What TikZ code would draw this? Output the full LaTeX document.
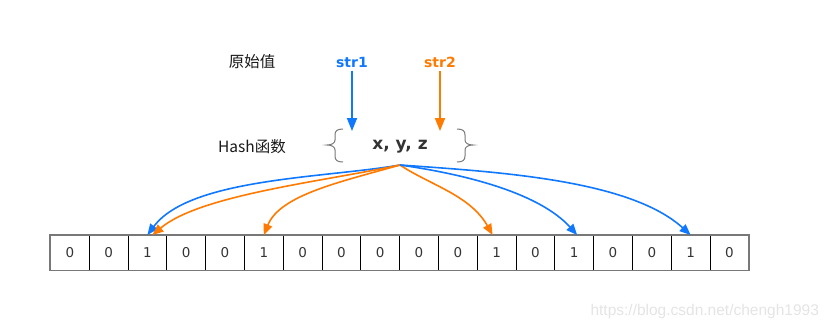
\documentclass[tikz,border=0pt]{standalone}
\usepackage{fontspec}
\setmainfont{DejaVu Sans}
\newfontfamily\cjk{Noto Sans CJK SC}
\newfontfamily\wmfont{Liberation Sans}
\usetikzlibrary{arrows.meta}
\definecolor{hblue}{RGB}{16,120,255}
\definecolor{horange}{RGB}{255,122,0}
\definecolor{bgray}{RGB}{120,120,120}
\definecolor{txt}{RGB}{51,51,51}
\definecolor{wmgray}{RGB}{228,228,228}
\begin{document}
\begin{tikzpicture}[x=1pt,y=-1pt,
  cell/.style={draw=black, line width=0.8pt, minimum width=38.8pt, minimum height=34.5pt,
    inner sep=0pt, font=\fontsize{13.5}{13.5}\selectfont, text=txt, anchor=north west},
  label/.style={font=\cjk\fontsize{15.5}{15.5}\selectfont, text=black!90},
  strlabel/.style={font=\bfseries\fontsize{14}{14}\selectfont},
  vert/.style={-{Triangle[length=13pt,width=10pt]}, line width=1.8pt},
  curve/.style={-{Triangle[length=11pt,width=9pt]}, line width=1.6pt},
  brace/.style={draw=bgray, line width=1pt}
]
\useasboundingbox (0,0) rectangle (831,330);

% labels
\node[label] (yl) at (252,62) {原始值};
\node[label] (hl) at (252,147) {Hash函数};

\node[strlabel, text=hblue] (s1) at (352,62) {str1};
\node[strlabel, text=horange] (s2) at (440,62) {str2};

\node[font=\bfseries\fontsize{17}{17}\selectfont, text=txt] (xyz) at (400,147) {x, y, z};

\coordinate (t1) at (352,131);
\coordinate (t2) at (440,131);
\draw[vert, hblue] (s1.south) -- (t1);
\draw[vert, horange] (s2.south) -- (t2);

% braces
\draw[brace] (343,129) .. controls (337,129) and (335,131) .. (335,135) -- (335,140)
  .. controls (335,143) and (332,145) .. (327,145)
  .. controls (332,145) and (335,147) .. (335,150) -- (335,156)
  .. controls (335,160) and (337,162) .. (343,162);
\draw[brace] (457,129) .. controls (463,129) and (465,131) .. (465,135) -- (465,140)
  .. controls (465,143) and (468,145) .. (473,145)
  .. controls (468,145) and (465,147) .. (465,150) -- (465,156)
  .. controls (465,160) and (463,162) .. (457,162);

% cells
\foreach \v [count=\i from 0] in {0,0,1,0,0,1,0,0,0,0,0,1,0,1,0,0,1,0}
  \node[cell] (c\i) at ({50+38.8*\i},235) {\v};
\draw[bgray, line width=1.6pt] (c0.north west) rectangle (c17.south east);

% curves
\coordinate (src) at (400,165);
\draw[curve, hblue] (src) .. controls (325,178) and (190,178) .. (c2.north);
\draw[curve, horange] (src) .. controls (320,182) and (200,195) .. ([xshift=5pt]c2.north);
\draw[curve, horange] (src) .. controls (340,182) and (280,195) .. (c5.north);
\draw[curve, horange] (src) .. controls (430,185) and (470,195) .. ([xshift=-4pt]c11.north);
\draw[curve, hblue] (src) .. controls (470,175) and (540,194) .. ([xshift=3pt]c13.north);
\draw[curve, hblue] (src) .. controls (500,172) and (630,180) .. (c16.north);

% watermark
\node[font=\wmfont\fontsize{15.5}{15.5}\selectfont, text=wmgray, anchor=west] (wmk) at (587,311) {https://blog.csdn.net/chengh1993};
\end{tikzpicture}
\end{document}
